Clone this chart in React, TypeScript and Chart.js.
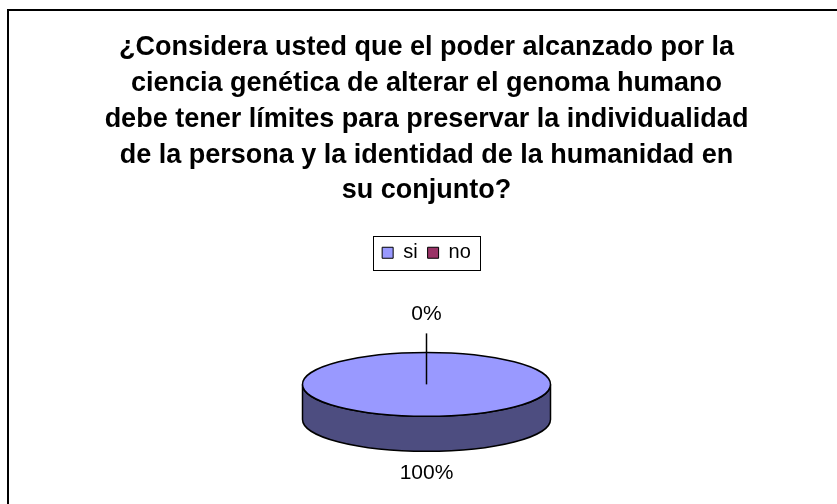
import React, { useEffect, useRef } from "react";
import { Chart, registerables } from "chart.js";

Chart.register(...registerables);

const categories = ["si", "no"];
const values = [100, 0];
const titleLines = [
  "¿Considera usted que el poder alcanzado por la",
  "ciencia genética de alterar el genoma humano",
  "debe tener límites para preservar la individualidad",
  "de la persona y la identidad de la humanidad en",
  "su conjunto?",
];
const topColors = ["#9999FF", "#993366"];
const sideColors = ["#4D4D80", "#4D1A33"];

const FONT = "'Liberation Sans', Arial, sans-serif";
const TILT = 0.258;
const DEPTH = 35;

function percentText(i: number) {
  const total = values.reduce((a, b) => a + b, 0);
  return Math.round((values[i] / total) * 100) + "%";
}

function visibleFront(s: number, e: number): [number, number][] {
  const out: [number, number][] = [];
  for (let k = -2; k <= 2; k++) {
    const a = Math.max(s, 2 * Math.PI * k);
    const b = Math.min(e, 2 * Math.PI * k + Math.PI);
    if (b > a) out.push([a, b]);
  }
  return out;
}

const framePlugin = {
  id: "frame",
  beforeDraw(chart: any) {
    const ctx = chart.ctx;
    ctx.save();
    ctx.fillStyle = "#fff";
    ctx.fillRect(0, 0, chart.width, chart.height);
    ctx.strokeStyle = "#000";
    ctx.lineWidth = 2;
    ctx.strokeRect(8, 10, 1000, 1000);
    ctx.restore();
  },
  afterDraw(chart: any) {
    const ctx = chart.ctx;
    const lg = chart.legend;
    if (lg && lg.legendHitBoxes && lg.legendHitBoxes.length) {
      const hb = lg.legendHitBoxes;
      let l = Infinity, r = -Infinity, t = Infinity, b = -Infinity;
      hb.forEach((h: any) => {
        l = Math.min(l, h.left);
        r = Math.max(r, h.left + h.width);
        t = Math.min(t, h.top);
        b = Math.max(b, h.top + h.height);
      });
      ctx.save();
      ctx.strokeStyle = "#000";
      ctx.lineWidth = 1;
      ctx.strokeRect(Math.round(l - 9) + 0.5, Math.round(t - 7) + 0.5, Math.round(r - l + 18), Math.round(b - t + 14));
      ctx.restore();
    }
  },
};

const pie3dPlugin = {
  id: "pie3d",
  beforeDatasetsDraw(chart: any) {
    const ctx = chart.ctx;
    const meta = chart.getDatasetMeta(0);
    ctx.save();
    meta.data.forEach((arc: any, i: number) => {
      const { x, y, startAngle, endAngle, outerRadius } = arc.getProps(
        ["x", "y", "startAngle", "endAngle", "outerRadius"],
        true
      );
      const r = outerRadius;
      const ry = r * TILT;
      visibleFront(startAngle, endAngle).forEach(([a0, a1]) => {
        ctx.beginPath();
        ctx.ellipse(x, y, r, ry, 0, a0, a1, false);
        ctx.lineTo(x + r * Math.cos(a1), y + ry * Math.sin(a1) + DEPTH);
        ctx.ellipse(x, y + DEPTH, r, ry, 0, a1, a0, true);
        ctx.closePath();
        ctx.fillStyle = sideColors[i];
        ctx.fill();
        ctx.strokeStyle = "#000";
        ctx.lineWidth = 1.5;
        ctx.stroke();
      });
    });
    ctx.restore();
    const first = meta.data[0];
    ctx.save();
    ctx.translate(first.x, first.y);
    ctx.scale(1, TILT);
    ctx.translate(-first.x, -first.y);
  },
  afterDatasetsDraw(chart: any) {
    const ctx = chart.ctx;
    ctx.restore();
    const meta = chart.getDatasetMeta(0);
    ctx.save();
    ctx.strokeStyle = "#000";
    ctx.lineWidth = 1.5;
    meta.data.forEach((arc: any) => {
      const { x, y, startAngle, endAngle, outerRadius } = arc.getProps(
        ["x", "y", "startAngle", "endAngle", "outerRadius"],
        true
      );
      const r = outerRadius;
      const ry = r * TILT;
      const span = endAngle - startAngle;
      if (span <= 0) return;
      ctx.beginPath();
      if (span >= 2 * Math.PI - 1e-6) {
        ctx.ellipse(x, y, r, ry, 0, 0, 2 * Math.PI);
      } else {
        ctx.moveTo(x, y);
        ctx.ellipse(x, y, r, ry, 0, startAngle, endAngle);
        ctx.closePath();
      }
      ctx.stroke();
    });
    // labels
    ctx.fillStyle = "#000";
    ctx.font = "21px " + FONT;
    ctx.textAlign = "center";
    ctx.textBaseline = "middle";
    meta.data.forEach((arc: any, i: number) => {
      const { x, y, startAngle, endAngle, outerRadius } = arc.getProps(
        ["x", "y", "startAngle", "endAngle", "outerRadius"],
        true
      );
      const r = outerRadius;
      const ry = r * TILT;
      const mid = (startAngle + endAngle) / 2;
      const c = Math.cos(mid);
      const s = Math.sin(mid);
      const ex = x + c * r;
      const ey = y + s * ry + (s > 0 ? DEPTH : 0);
      const zero = values[i] === 0;
      const off = zero ? 38 : 22;
      if (zero) {
        ctx.beginPath();
        ctx.moveTo(x, y);
        ctx.lineTo(ex + c * 19, ey + s * 19);
        ctx.lineWidth = 1.5;
        ctx.stroke();
      }
      ctx.fillText(percentText(i), ex + c * off, ey + s * off);
    });
    ctx.restore();
  },
};

export default function App() {
  const ref = useRef<HTMLCanvasElement | null>(null);
  useEffect(() => {
    if (!ref.current) return;
    const baseGen = (Chart as any).overrides.pie.plugins.legend.labels.generateLabels;
    const chart = new Chart(ref.current, {
      type: "pie",
      data: {
        labels: categories,
        datasets: [
          {
            data: values,
            backgroundColor: topColors,
            borderWidth: 0,
            clip: false,
          } as any,
        ],
      },
      options: {
        responsive: false,
        animation: false,
        events: [],
        radius: 124,
        layout: { padding: { left: 16, right: 0, top: 0, bottom: 8 } },
        plugins: {
          title: {
            display: true,
            text: titleLines,
            color: "#000",
            font: { family: FONT, size: 27, weight: "bold", lineHeight: 35.75 / 27 },
            padding: { top: 30, bottom: 24 },
          },
          legend: {
            display: true,
            position: "top",
            labels: {
              color: "#000",
              font: { family: FONT, size: 20 },
              boxWidth: 11,
              boxHeight: 11,
              padding: 10,
              generateLabels: (c: any) =>
                baseGen(c).map((it: any) => ({ ...it, strokeStyle: "#000", lineWidth: 1 })),
            },
          },
          tooltip: { enabled: false },
        },
      } as any,
      plugins: [framePlugin, pie3dPlugin],
    });
    return () => chart.destroy();
  }, []);
  return (
    <div style={{ position: "fixed", left: 0, top: 0, width: 837, height: 504, background: "#fff" }}>
      <canvas ref={ref} width={837} height={504} style={{ display: "block" }} />
    </div>
  );
}
